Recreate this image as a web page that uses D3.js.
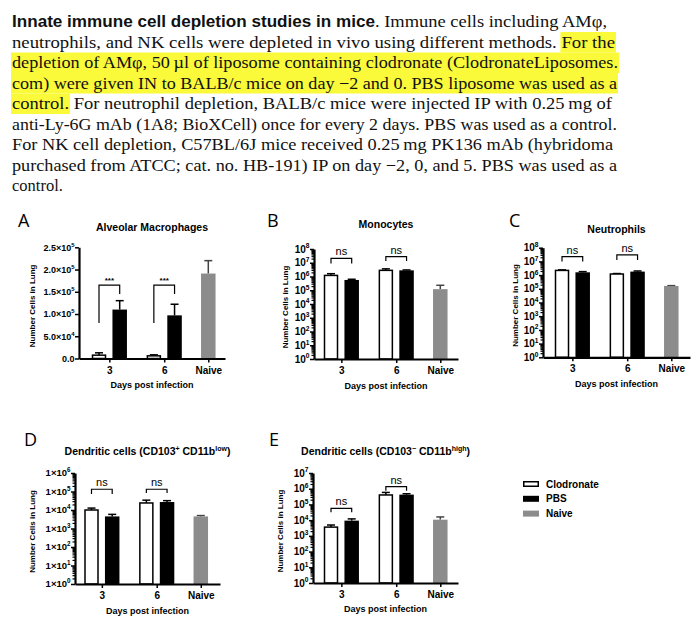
<!DOCTYPE html>
<html><head><meta charset="utf-8">
<script src="https://cdn.jsdelivr.net/npm/d3@7"></script>
<style>body{margin:0;background:#fff}svg{display:block}text{white-space:pre}</style>
</head><body>
<script>
// ---------------- data ----------------
const groupLabels = ["3", "6", "Naive"];
const seriesNames = ["Clodronate", "PBS", "Naive"];
const barSeries = [0, 1, 0, 1, 2];
const barSlots = [0, 1, 2.65, 3.65, 5.28];
const groupTickSlots = [0.5, 3.15, 5.28];

const amMean = [7.5e3, 1.10e5, 6.0e3, 0.97e5, 1.91e5];
const amErr  = [1.28e4, 1.30e5, 8.3e3, 1.22e5, 2.20e5];
const monoMean = [1.2e6, 5.6e5, 2.8e6, 2.8e6, 1.2e5];
const monoErr  = [1.6e6, 6.3e5, 3.6e6, 3.0e6, 2.3e5];
const neutMean = [2.2e6, 1.6e6, 1.2e6, 1.8e6, 1.6e5];
const neutErr  = [2.4e6, 1.8e6, 1.3e6, 2.0e6, 1.7e5];
const dc1Mean = [1.0e4, 4.5e3, 2.4e4, 2.7e4, 4.5e3];
const dc1Err  = [1.27e4, 5.8e3, 3.4e4, 3.2e4, 5.0e3];
const dc2Mean = [3.6e3, 9.3e3, 4.0e5, 4.2e5, 1.07e4];
const dc2Err  = [4.9e3, 1.2e4, 5.8e5, 4.8e5, 1.6e4];

const amTicks = [0, 5e4, 1e5, 1.5e5, 2e5, 2.5e5];
const amTickLabels = [["0.0", ""], ["5.0×10", "4"], ["1.0×10", "5"], ["1.5×10", "5"], ["2.0×10", "5"], ["2.5×10", "5"]];
const ticks8 = [1, 1e1, 1e2, 1e3, 1e4, 1e5, 1e6, 1e7, 1e8];
const ticks8Labels = [["10","0"],["10","1"],["10","2"],["10","3"],["10","4"],["10","5"],["10","6"],["10","7"],["10","8"]];
const ticks6 = [1, 1e1, 1e2, 1e3, 1e4, 1e5, 1e6];
const ticks6Labels = [["1×10","0"],["1×10","1"],["1×10","2"],["1×10","3"],["1×10","4"],["1×10","5"],["1×10","6"]];
const ticks7 = [1, 1e1, 1e2, 1e3, 1e4, 1e5, 1e6, 1e7];
const ticks7Labels = [["10","0"],["10","1"],["10","2"],["10","3"],["10","4"],["10","5"],["10","6"],["10","7"]];

const amSig   = [{g:0, label:"***", top:1.65e5, left:0.8e5, right:1.45e5}, {g:1, label:"***", top:1.65e5, left:0.8e5, right:1.45e5}];
const monoSig = [{g:0, label:"ns", top:2.1e7, left:9e6, right:9e6}, {g:1, label:"ns", top:2.75e7, left:1.35e7, right:1.35e7}];
const neutSig = [{g:0, label:"ns", top:2.2e7, left:1e7, right:1e7}, {g:1, label:"ns", top:2.95e7, left:1.25e7, right:1.25e7}];
const dc1Sig  = [{g:0, label:"ns", top:1.32e5, left:7.4e4, right:7.4e4}, {g:1, label:"ns", top:1.32e5, left:8.3e4, right:8.3e4}];
const dc2Sig  = [{g:0, label:"ns", top:5.6e4, left:3.2e4, right:3.2e4}, {g:1, label:"ns", top:1.35e6, left:7.4e5, right:7.4e5}];

const textLines = [
  [{t:"Innate immune cell depletion studies in mice", bold:true, end:375}, {t:". Immune cells including AMφ,", end:607}],
  [{t:"neutrophils, and NK cells were depleted in vivo using different methods. "}, {t:"For the", hl:true}],
  [{t:"depletion of AMφ, 50\u2009µl of liposome containing clodronate (ClodronateLiposomes.", hl:true}],
  [{t:"com) were given IN to BALB/c mice on day −2 and 0. PBS liposome was used as a", hl:true}],
  [{t:"control.", hl:true}, {t:" For neutrophil depletion, BALB/c mice were injected IP with 0.25\u2009mg of"}],
  [{t:"anti-Ly-6G mAb (1A8; BioXCell) once for every 2 days. PBS was used as a control."}],
  [{t:"For NK cell depletion, C57BL/6J mice received 0.25\u2009mg PK136 mAb (hybridoma"}],
  [{t:"purchased from ATCC; cat. no. HB-191) IP on day −2, 0, and 5. PBS was used as a"}],
  [{t:"control."}]
];
const lineEnds = [607, 615, 618, 617, 612, 617, 613, 617, null];

// ---------------- drawing ----------------
const svg = d3.select("body").append("svg").attr("width", 700).attr("height", 629);
const SANS = "'Liberation Sans', Arial, sans-serif";
const SERIF = "'Liberation Serif', 'Times New Roman', serif";

// paragraph
const hlLayer = svg.append("g");
const txtLayer = svg.append("g");
textLines.forEach((segs, li) => {
  const base = 27 + li * 20.5;
  const els = segs.map(s => txtLayer.append("text")
    .attr("xml:space", "preserve")
    .attr("y", base)
    .attr("font-family", s.bold ? SANS : SERIF)
    .attr("font-weight", s.bold ? "bold" : "normal")
    .attr("font-size", s.bold ? 16 : 16.5)
    .attr("fill", "#111")
    .text(s.t));
  const nat = els.map(e => e.node().getComputedTextLength());
  let x = 12;
  if (segs[0].end !== undefined) {
    segs.forEach((s, i) => {
      const w = s.end - x;
      els[i].attr("x", x).attr("textLength", w).attr("lengthAdjust", "spacingAndGlyphs");
      if (s.hl) hlLayer.append("rect").attr("x", x).attr("y", base - 15.5).attr("width", w).attr("height", 20.5).attr("fill", "#fafa3a");
      x = s.end;
    });
  } else {
    const total = d3.sum(nat);
    const k = lineEnds[li] ? (lineEnds[li] - 12) / total : 1;
    segs.forEach((s, i) => {
      const w = nat[i] * k;
      els[i].attr("x", x);
      if (lineEnds[li]) els[i].attr("textLength", w).attr("lengthAdjust", "spacingAndGlyphs");
      if (s.hl) {
        const lead = s.t.startsWith(" ") ? 4 : 0;
        hlLayer.append("rect").attr("x", x - 1 + lead).attr("y", base - 15.5).attr("width", w + 2 - lead).attr("height", 20.5).attr("fill", "#fafa3a");
      }
      x += w;
    });
  }
});

const unit = 20.7, bw = 14.5;
const fills = ["#fff", "#000", "#8c8c8c"];

function labelWithSup(sel, base, sup, fs) {
  sel.append("tspan").text(base);
  if (sup) sel.append("tspan").attr("dy", -fs * 0.42).attr("font-size", fs * 0.66).text(sup);
}

function drawPanel(p) {
  const g = svg.append("g").attr("font-family", SANS).attr("font-weight", "bold");
  const x = d3.scaleLinear().domain([-p.pad / unit, (p.end - p.ax - p.pad) / unit]).range([p.ax, p.end]);
  const y = p.log ? d3.scaleLog().domain(p.yDomain).range([p.bottom, p.top])
                  : d3.scaleLinear().domain(p.yDomain).range([p.bottom, p.top]);
  const y0 = p.yDomain[0];
  const bars = p.mean.map((m, i) => ({m, e: p.err[i], s: barSeries[i], slot: barSlots[i]}));

  // letter
  svg.append("text").attr("x", p.letter[0]).attr("y", p.letter[1]).attr("font-family", "'Open Sans', sans-serif")
    .attr("font-size", 18).text(p.letterText);
  // title
  const t = g.append("text").attr("x", (p.ax + p.end) / 2).attr("y", p.titleY).attr("text-anchor", "middle")
    .attr("font-size", 10.5);
  let raised = false;
  p.title.forEach(part => {
    if (part.sup) {
      t.append("tspan").attr("dy", -4).attr("font-size", 7).text(part.sup);
      raised = true;
    } else {
      const ts = t.append("tspan").text(part.t);
      if (raised) { ts.attr("dy", 4); raised = false; }
    }
  });

  // error bars
  const eg = g.append("g");
  bars.forEach(b => {
    const col = b.s === 2 ? "#444" : "#000";
    eg.append("line").attr("x1", x(b.slot)).attr("x2", x(b.slot)).attr("y1", y(b.m)).attr("y2", y(b.e))
      .attr("stroke", col).attr("stroke-width", 1.5);
    eg.append("line").attr("x1", x(b.slot) - 4).attr("x2", x(b.slot) + 4).attr("y1", y(b.e)).attr("y2", y(b.e))
      .attr("stroke", col).attr("stroke-width", 1.5);
  });
  // bars
  g.append("g").selectAll("rect").data(bars).join("rect")
    .attr("x", d => x(d.slot) - bw / 2 + (d.s === 0 ? 0.75 : 0))
    .attr("width", d => bw - (d.s === 0 ? 1.5 : 0))
    .attr("y", d => y(d.m))
    .attr("height", d => y(y0) - y(d.m))
    .attr("fill", d => fills[d.s])
    .attr("stroke", d => d.s === 0 ? "#000" : "none")
    .attr("stroke-width", 1.5);

  // significance brackets
  p.sig.forEach(s => {
    const xl = x(barSlots[s.g * 2]), xr = x(barSlots[s.g * 2 + 1]);
    g.append("path").attr("d", `M${xl},${y(s.left)}V${y(s.top)}H${xr}V${y(s.right)}`)
      .attr("fill", "none").attr("stroke", "#000").attr("stroke-width", 1.2);
    g.append("text").attr("x", (xl + xr) / 2).attr("y", y(s.top) - (s.label === "ns" ? 3 : 2))
      .attr("text-anchor", "middle").attr("font-size", s.label === "ns" ? 11 : 8).attr("font-weight", s.label === "ns" ? "normal" : "bold").text(s.label);
  });

  // y axis
  const ya = g.append("g").attr("transform", `translate(${p.ax},0)`)
    .call(d3.axisLeft(y).tickValues(p.ticks).tickSize(4).tickSizeOuter(0).tickFormat(""));
  if (p.log) {
    const minor = y.ticks().filter(v => Math.abs(Math.log10(v) - Math.round(Math.log10(v))) > 1e-6);
    g.append("g").attr("transform", `translate(${p.ax},0)`)
      .call(d3.axisLeft(y).tickValues(minor).tickSize(2.5).tickSizeOuter(0).tickFormat(""))
      .call(a => a.select(".domain").remove())
      .selectAll("line").attr("stroke-width", 1.2);
  }
  ya.select(".domain").attr("stroke-width", 2.2);
  ya.selectAll(".tick line").attr("stroke-width", 1.5);
  p.ticks.forEach((v, i) => {
    const tt = g.append("text").attr("x", p.ax - 4.5).attr("y", y(v) + p.tickFs * 0.36).attr("text-anchor", "end")
      .attr("font-size", p.tickFs);
    labelWithSup(tt, p.tickLabels[i][0], p.tickLabels[i][1], p.tickFs);
  });

  // x axis
  const xa = g.append("g").attr("transform", `translate(0,${p.bottom})`)
    .call(d3.axisBottom(x).tickValues(groupTickSlots).tickSize(4).tickSizeOuter(0).tickPadding(4)
      .tickFormat((d, i) => groupLabels[i]));
  xa.select(".domain").attr("stroke-width", 2.2);
  xa.selectAll(".tick line").attr("stroke-width", 1.5);
  xa.selectAll(".tick text").attr("font-size", 10).attr("font-family", SANS).attr("font-weight", "bold").attr("fill", "#000");

  g.append("text").attr("x", (p.ax + p.end) / 2).attr("y", p.xTitleY).attr("text-anchor", "middle")
    .attr("font-size", 9).text("Days post infection");
  const my = (p.top + p.bottom) / 2 + 3;
  g.append("text").attr("transform", `translate(${p.yLabelX},${my}) rotate(-90)`).attr("text-anchor", "middle")
    .attr("dominant-baseline", "central").attr("font-size", 8).text("Number Cells in Lung");
}

drawPanel({letterText:"A", letter:[18, 227], title:[{t:"Alveolar Macrophages"}], titleY:231, log:false,
  yDomain:[0, 2.5e5], ticks:amTicks, tickLabels:amTickLabels, tickFs:9, mean:amMean, err:amErr, sig:amSig,
  ax:79, pad:20, end:225, top:247.3, bottom:358.5, yLabelX:32, xTitleY:388});
drawPanel({letterText:"B", letter:[267, 227], title:[{t:"Monocytes"}], titleY:228, log:true,
  yDomain:[1, 1e8], ticks:ticks8, tickLabels:ticks8Labels, tickFs:10, mean:monoMean, err:monoErr, sig:monoSig,
  ax:314, pad:17, end:458, top:249, bottom:359, yLabelX:285, xTitleY:388.5});
drawPanel({letterText:"C", letter:[509, 227], title:[{t:"Neutrophils"}], titleY:232.5, log:true,
  yDomain:[1, 1e8], ticks:ticks8, tickLabels:ticks8Labels, tickFs:10, mean:neutMean, err:neutErr, sig:neutSig,
  ax:543, pad:19, end:690, top:247.7, bottom:357.3, yLabelX:515, xTitleY:386.5});
drawPanel({letterText:"D", letter:[24, 446], title:[{t:"Dendritic cells (CD103"}, {sup:"+"}, {t:" CD11b"}, {sup:"low"}, {t:")"}], titleY:455, log:true,
  yDomain:[1, 1e6], ticks:ticks6, tickLabels:ticks6Labels, tickFs:9.5, mean:dc1Mean, err:dc1Err, sig:dc1Sig,
  ax:75, pad:16.5, end:220, top:473, bottom:584, yLabelX:32, xTitleY:613.5});
drawPanel({letterText:"E", letter:[269, 446], title:[{t:"Dendritic cells (CD103"}, {sup:"−"}, {t:" CD11b"}, {sup:"high"}, {t:")"}], titleY:455, log:true,
  yDomain:[1, 1e7], ticks:ticks7, tickLabels:ticks7Labels, tickFs:10, mean:dc2Mean, err:dc2Err, sig:dc2Sig,
  ax:313, pad:18, end:458, top:473, bottom:583, yLabelX:280, xTitleY:611.5});

// legend
const lg = svg.append("g").attr("font-family", SANS).attr("font-weight", "bold");
seriesNames.forEach((n, i) => {
  const yy = 481 + i * 14.8;
  lg.append("rect").attr("x", i === 0 ? 523.75 : 523).attr("y", yy + (i === 0 ? 0.75 : 0))
    .attr("width", i === 0 ? 14.5 : 16).attr("height", i === 0 ? 4.5 : 6)
    .attr("fill", fills[i]).attr("stroke", i === 0 ? "#000" : "none").attr("stroke-width", 1.5);
  lg.append("text").attr("x", 546).attr("y", yy + 3).attr("dominant-baseline", "central").attr("font-size", 10).text(n);
});
</script>
</body></html>
